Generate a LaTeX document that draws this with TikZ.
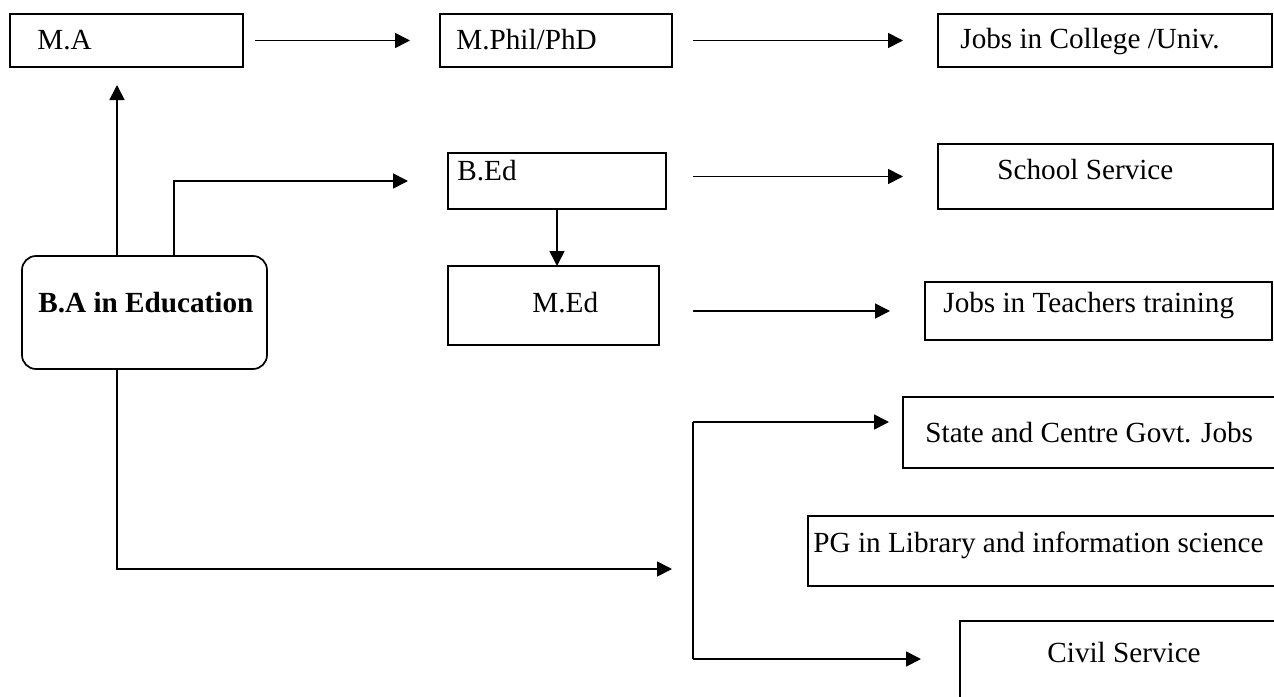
\documentclass[tikz,border=0pt]{standalone}
\usepackage{fontspec}
\setmainfont{Liberation Serif}
\usetikzlibrary{arrows.meta}
\begin{document}
\begin{tikzpicture}[x=0.5pt,y=-0.5pt,
  box/.style={draw, line width=0.85pt, anchor=north west, inner sep=0pt, outer sep=0pt},
  rbox/.style={box, rounded corners=7pt},
  lbl/.style={anchor=base west, inner sep=0pt, font=\fontsize{14.6pt}{17pt}\selectfont},
  conn/.style={line width=0.85pt},
  arr/.style={conn, -{Triangle[length=7.5pt,width=7.5pt]}}]
\useasboundingbox (0,0) rectangle (1274,696);
\clip (0,0) rectangle (1274,696);
\fill[white] (0,0) rectangle (1274,696);
% boxes
\node[box, minimum width=116.5pt, minimum height=26.5pt] (MA) at (10,14) {};
\node[box, minimum width=116pt, minimum height=26.5pt] (MPhil) at (440,14) {};
\node[box, minimum width=167pt, minimum height=26.5pt] (College) at (938,14) {};
\node[box, minimum width=109pt, minimum height=28pt] (BEd) at (448,153) {};
\node[box, minimum width=167.5pt, minimum height=32.5pt] (School) at (938,144) {};
\node[box, minimum width=105.5pt, minimum height=39.5pt] (MEd) at (448,266) {};
\node[box, minimum width=173.5pt, minimum height=29pt] (Teach) at (925,282) {};
\node[rbox, minimum width=122.5pt, minimum height=56.5pt] (BA) at (22,256) {};
\node[box, minimum width=193.5pt, minimum height=35.5pt] (State) at (903,397) {};
\node[box, minimum width=241pt, minimum height=35pt] (PG) at (808,516) {};
\node[box, minimum width=165pt, minimum height=49.5pt] (Civil) at (960,621) {};
% texts
\node[lbl] (tMA) at (37,49) {M.A};
\node[lbl] (tMPhil) at (456,49) {M.Phil/PhD};
\node[lbl] (tCollege) at (960,48) {Jobs in College /Univ.};
\node[lbl] (tBEd) at (457,180) {B.Ed};
\node[lbl] (tSchool) at (997,179) {School Service};
\node[lbl] (tMEd) at (532,312) {M.Ed};
\node[lbl] (tTeach) at (943,312) {Jobs in Teachers training};
\node[lbl, font=\fontsize{14.6pt}{17pt}\selectfont\bfseries] (tBA) at (38,312) {B.A in Education};
\node[lbl] (tState) at (925,442) {State and Centre Govt. Jobs};
\node[lbl] (tPG) at (813,552) {PG in Library and information science};
\node[lbl] (tCivil) at (1047,662) {Civil Service};
% routing coordinates
\coordinate (c1) at (117,0);
\coordinate (c2) at (174,0);
\coordinate (j) at (693,569);
\coordinate (jt) at (693,422);
\coordinate (jb) at (693,659);
% connectors
\draw[arr, shorten <=6pt, shorten >=15pt] (MA.east) -- (MPhil.west);
\draw[arr, shorten <=10.5pt, shorten >=17.5pt] (MPhil.east) -- (College.west);
\draw[arr, shorten <=13.5pt, shorten >=17.5pt] (BEd.east |- School.west) -- (School.west);
\draw[arr, shorten <=17pt, shorten >=17.5pt] (MEd.east |- Teach.west) -- (Teach.west);
\draw[arr] (BEd.south) -- (BEd.south |- MEd.north);
\draw[arr, shorten >=9pt] (BA.north -| c1) -- (MA.south -| c1);
\draw[arr, shorten >=20pt] (BA.north -| c2) |- (BEd.west);
\draw[arr, shorten >=10.5pt] (BA.south -| c1) |- (j);
\draw[conn] (jt) -- (jb);
\draw[arr, shorten >=7pt] (jt) -- (jt -| State.west);
\draw[arr, shorten >=19.5pt] (jb) -- (jb -| Civil.west);
\end{tikzpicture}
\end{document}
